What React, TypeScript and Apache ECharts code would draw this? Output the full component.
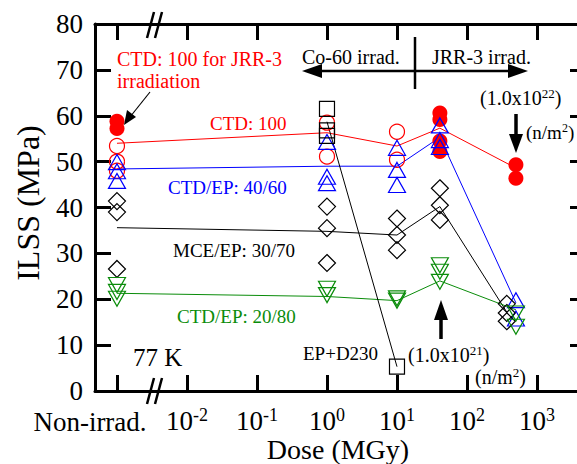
import React, { useEffect, useRef } from "react";
import * as echarts from "echarts";

const FONT = '"Liberation Serif", "Times New Roman", serif';

// Axis position used for the non-irradiated samples (log10 scale position)
const NON_IRRAD_POS = -3;
const X_TICKS = [-3, -2, -1, 0, 1, 2, 3];
const X_POW_LABELS = [-2, -1, 0, 1, 2, 3];
const NON_IRRAD_LABEL = "Non-irrad.";
const Y_MIN = 0;
const Y_MAX = 80;
const Y_STEP = 10;

type Pt = [number | null, number]; // [dose in MGy (null = non-irradiated), ILSS MPa]

// CTD: 100 (Co-60, open circles)
const ctd100Open: Pt[] = [
  [null, 53.4], [null, 50.0], [null, 48.0],
  [1, 58.5], [1, 51.1],
  [10, 56.5], [10, 50.4],
];
// CTD: 100 for JRR-3 irradiation (filled circles)
const ctd100Jrr: Pt[] = [
  [null, 58.8], [null, 57.2],
  [41, 60.6], [41, 59.2], [41, 54.5], [41, 52.2],
  [500, 49.3], [500, 46.4],
];
const ctd100Avg: Pt[] = [[null, 54.0], [1, 56.3], [10, 53.4], [41, 57.3], [500, 48.6]];

// CTD/EP: 40/60 (triangles)
const ctdEp4060: Pt[] = [
  [null, 49.9], [null, 47.9], [null, 45.8],
  [1, 54.3], [1, 46.7], [1, 45.3],
  [10, 53.0], [10, 48.2], [10, 44.9],
  [41, 57.9], [41, 54.7], [41, 53.2],
  [500, 19.8], [500, 15.8],
];
const ctdEp4060Avg: Pt[] = [[null, 48.4], [1, 49.0], [10, 49.0], [41, 55.3], [500, 19.2]];

// MCE/EP: 30/70 (diamonds)
const mceEp3070: Pt[] = [
  [null, 41.4], [null, 39.0], [null, 26.6],
  [1, 40.2], [1, 35.5], [1, 27.9],
  [10, 37.6], [10, 34.0], [10, 30.7],
  [41, 44.2], [41, 40.5], [41, 37.3],
  [370, 19.0], [370, 17.0], [370, 15.2],
];
const mceEp3070Avg: Pt[] = [[null, 35.6], [1, 34.8], [10, 34.0], [41, 40.2], [370, 17.2]];

// CTD/EP: 20/80 (inverted triangles)
const ctdEp2080: Pt[] = [
  [null, 23.1], [null, 21.6], [null, 20.1],
  [1, 22.3], [1, 20.9],
  [10, 20.2], [10, 19.7],
  [41, 27.4], [41, 26.0], [41, 23.8],
  [500, 16.9], [500, 14.0],
];
const ctdEp2080Avg: Pt[] = [[null, 21.3], [1, 20.6], [10, 19.7], [41, 24.0], [500, 17.7]];

// EP+D230 (squares)
const epD230: Pt[] = [[1, 61.5], [1, 56.8], [1, 55.6], [10, 5.3]];
const epD230Avg: Pt[] = [[1, 58.7], [10, 5.3]];

const RED = "#ff0000";
const BLUE = "#0000ff";
const GREEN = "#0a8c0a";
const BLACK = "#000000";

const toXY = (pts: Pt[]) =>
  pts.map(([d, v]) => [d === null ? NON_IRRAD_POS : Math.log10(d), v]);

export default function App() {
  const ref = useRef<HTMLDivElement>(null);
  useEffect(() => {
    if (!ref.current) return;
    const chart = echarts.init(ref.current, undefined, { renderer: "svg" });

    const lineSeries = (data: Pt[], color: string) => ({
      type: "line",
      data: toXY(data),
      showSymbol: false,
      symbol: "none",
      lineStyle: { color, width: 1 },
      z: 1,
      silent: true,
    });
    const scatter = (
      data: Pt[],
      color: string,
      symbol: string,
      size: number | number[],
      filled = false,
      rotate = 0
    ) => ({
      type: "scatter",
      data: toXY(data),
      symbol,
      symbolSize: size,
      symbolRotate: rotate,
      itemStyle: filled
        ? { color, borderColor: color, borderWidth: 0, opacity: 1 }
        : { color: "rgba(0,0,0,0)", borderColor: color, borderWidth: 1.2, opacity: 1 },
      z: 3,
      silent: true,
    });

    const axisCommon = {
      type: "value",
      axisLine: { show: true, onZero: false, lineStyle: { color: BLACK, width: 3 } },
      axisTick: { show: true, inside: true, length: 16, lineStyle: { color: BLACK, width: 3 } },
      splitLine: { show: false },
    };

    const textEl = (
      text: string,
      x: number,
      y: number,
      color: string,
      size: number,
      align: string = "left",
      rich?: any
    ) => ({
      type: "text",
      x,
      y,
      z: 10,
      style: {
        text,
        fill: color,
        fontSize: size,
        fontFamily: FONT,
        textAlign: align,
        textVerticalAlign: "middle",
        rich,
      },
    });
    const supRich = (size: number, color: string) => ({
      n: { fontSize: size, fontFamily: FONT, color, lineHeight: size + 2 },
      s: { fontSize: Math.round(size * 0.65), fontFamily: FONT, color, verticalAlign: "top", lineHeight: size + 2 },
    });
    const seg = (x1: number, y1: number, x2: number, y2: number, w: number) => ({
      type: "line",
      z: 10,
      shape: { x1, y1, x2, y2 },
      style: { stroke: BLACK, lineWidth: w },
    });
    const tri = (pts: number[][]) => ({
      type: "polygon",
      z: 10,
      shape: { points: pts },
      style: { fill: BLACK },
    });

    chart.setOption({
      animation: false,
      grid: { left: 95, top: 24, right: 14, bottom: 73, containLabel: false },
      xAxis: [
        {
          ...axisCommon,
          position: "bottom",
          min: -3.314,
          max: 3.7,
          axisTick: { ...axisCommon.axisTick, customValues: X_TICKS },
          axisLabel: {
            show: true,
            customValues: X_POW_LABELS,
            interval: 0,
            hideOverlap: false,
            margin: 15,
            color: BLACK,
            fontFamily: FONT,
            fontSize: 27,
            formatter: (v: number) => `{n|10}{s|${v}}`,
            rich: {
              n: { fontSize: 27, fontFamily: FONT, color: BLACK, lineHeight: 30 },
              s: { fontSize: 18, fontFamily: FONT, color: BLACK, verticalAlign: "top", lineHeight: 30 },
            },
          },
        },
        {
          ...axisCommon,
          position: "top",
          min: -3.314,
          max: 3.7,
          axisTick: { ...axisCommon.axisTick, customValues: X_TICKS },
          axisLabel: { show: false },
        },
      ],
      yAxis: [
        {
          ...axisCommon,
          position: "left",
          min: Y_MIN,
          max: Y_MAX,
          interval: Y_STEP,
          axisLabel: { show: true, margin: 12, color: BLACK, fontFamily: FONT, fontSize: 27 },
        },
        {
          ...axisCommon,
          position: "right",
          min: Y_MIN,
          max: Y_MAX,
          interval: Y_STEP,
          axisLabel: { show: false },
        },
      ],
      series: [
        lineSeries(ctd100Avg, RED),
        lineSeries(ctdEp4060Avg, BLUE),
        lineSeries(mceEp3070Avg, BLACK),
        lineSeries(ctdEp2080Avg, GREEN),
        lineSeries(epD230Avg, BLACK),
        scatter(ctd100Jrr, RED, "circle", 15, true),
        scatter(ctd100Open, RED, "circle", 15),
        scatter(ctdEp4060, BLUE, "triangle", [17, 15]),
        scatter(mceEp3070, BLACK, "diamond", [17, 17]),
        scatter(ctdEp2080, GREEN, "triangle", [17, 15], false, 180),
        scatter(epD230, BLACK, "rect", [15, 15]),
      ],
      graphic: [
        // axis titles
        {
          type: "text",
          x: 28,
          y: 203,
          rotation: Math.PI / 2,
          z: 10,
          style: {
            text: "ILSS (MPa)",
            fill: BLACK,
            fontSize: 32,
            fontFamily: FONT,
            textAlign: "center",
            textVerticalAlign: "middle",
          },
        },
        textEl("Dose (MGy)", 338, 449, BLACK, 28, "center"),
        // tick label for the non-irradiated position
        textEl(NON_IRRAD_LABEL, 90, 422, BLACK, 27, "center"),
        // axis breaks
        seg(147, 404, 154, 378, 2.5),
        seg(155, 404, 162, 378, 2.5),
        seg(147, 38, 154, 12, 2.5),
        seg(155, 38, 162, 12, 2.5),
        // series labels
        textEl("CTD: 100 for JRR-3", 117, 59, RED, 20),
        textEl("irradiation", 117, 81, RED, 20),
        textEl("CTD: 100", 210, 123, RED, 19),
        textEl("CTD/EP: 40/60", 168, 187, BLUE, 19),
        textEl("MCE/EP: 30/70", 173, 250, BLACK, 19),
        textEl("CTD/EP: 20/80", 177, 316, GREEN, 19),
        textEl("EP+D230", 303, 353, BLACK, 19),
        textEl("77 K", 133, 357, BLACK, 25),
        textEl("Co-60 irrad.", 302, 57, BLACK, 20),
        textEl("JRR-3 irrad.", 432, 57, BLACK, 20),
        textEl("{n|(1.0x10}{s|22}{n|)}", 480, 98, BLACK, 20, "left", supRich(20, BLACK)),
        textEl("{n|(n/m}{s|2}{n|)}", 526, 132, BLACK, 19, "left", supRich(19, BLACK)),
        textEl("{n|(1.0x10}{s|21}{n|)}", 408, 355, BLACK, 20, "left", supRich(20, BLACK)),
        textEl("{n|(n/m}{s|2}{n|)}", 475, 377, BLACK, 20, "left", supRich(20, BLACK)),
        // thin arrow to JRR-3 non-irrad points
        seg(150, 92, 130, 117, 1.2),
        tri([[124, 125], [127, 110], [136, 117]]),
        // Co-60 / JRR-3 double arrow
        seg(320, 71, 512, 71, 2.5),
        tri([[302, 71], [322, 64], [322, 78]]),
        tri([[528, 71], [508, 64], [508, 78]]),
        seg(415, 37, 415, 89, 2.5),
        // down arrow (1.0x10^22)
        seg(516, 114, 516, 138, 3.5),
        tri([[509, 134], [523, 134], [516, 153]]),
        // up arrow (1.0x10^21)
        seg(441, 316, 441, 339, 3.5),
        tri([[434, 320], [448, 320], [441, 300]]),
      ],
    });
    return () => chart.dispose();
  }, []);
  return (
    <div
      ref={ref}
      style={{ position: "absolute", left: 0, top: 0, width: 600, height: 464, overflow: "hidden" }}
    />
  );
}
